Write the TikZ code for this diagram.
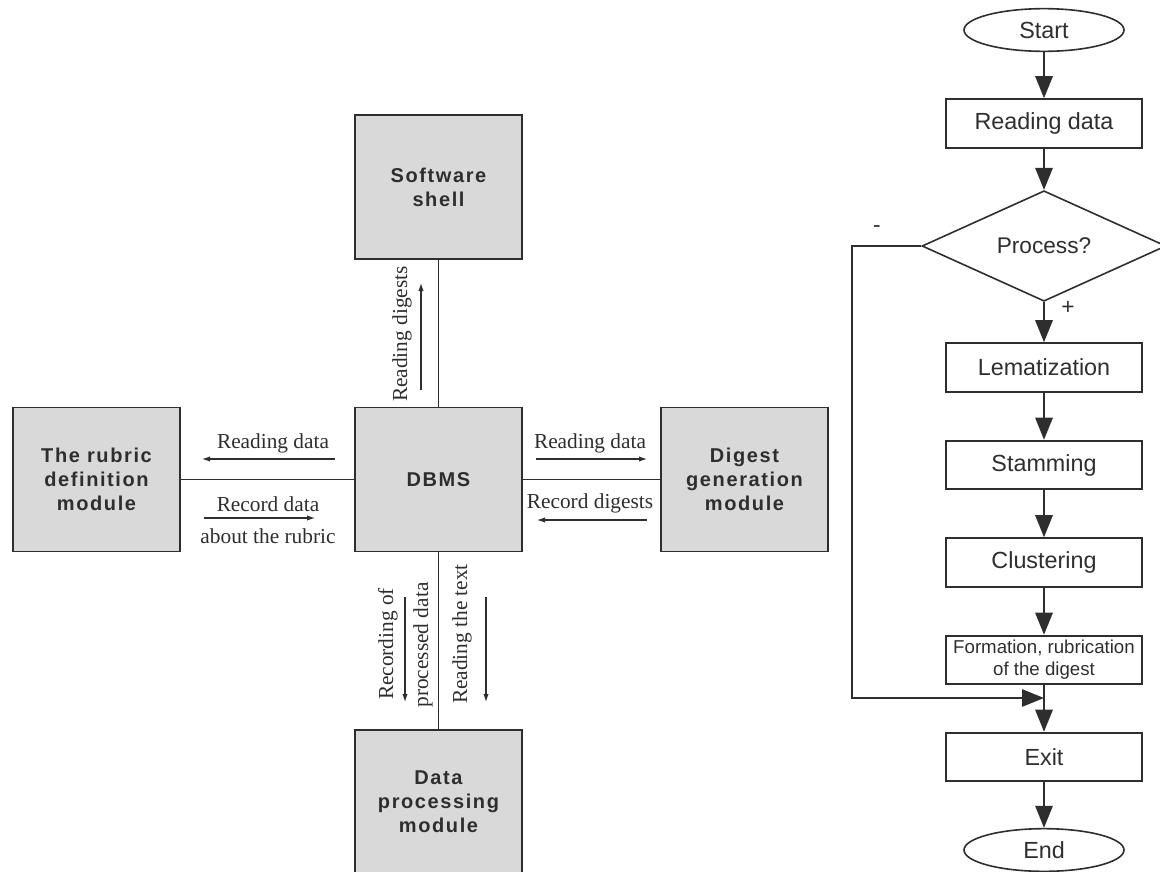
\documentclass[tikz,border=0pt]{standalone}
\usepackage{fontspec}
\setmainfont{Liberation Serif}
\setsansfont{Liberation Sans}
\newfontfamily\modfont[LetterSpace=8]{Liberation Sans}
\usetikzlibrary{arrows.meta,shapes.geometric}
\definecolor{ink}{HTML}{2E2E2E}
\definecolor{boxgray}{HTML}{D9D9D9}

\begin{document}
\begin{tikzpicture}
      [x=0.75pt, y=-0.75pt,
        module/.style={draw=ink, line width=1.4pt, fill=boxgray, text=ink,
          minimum width=125pt, minimum height=108pt, inner sep=0pt, align=center,
          font=\modfont\bfseries\fontsize{15}{18}\selectfont},
        lbl/.style={text=ink, inner sep=0pt, font=\fontsize{16}{18}\selectfont},
        link/.style={draw=ink, line width=1pt},
        tip/.style={draw=ink, line width=0.8pt, -{Latex[length=6pt, width=4pt]}},
        stepbox/.style={draw=ink, line width=1.4pt, minimum width=147pt, minimum height=36.5pt,
          inner sep=0pt, align=center, text=ink, font=\sffamily\fontsize{17.5}{20}\selectfont},
        term/.style={ellipse, draw=ink, line width=1.2pt, minimum width=120pt, minimum height=32pt,
          inner sep=0pt, text=ink, font=\sffamily\fontsize{17.5}{20}\selectfont},
        sign/.style={text=ink, inner sep=0pt, font=\sffamily\fontsize{17}{20}\selectfont},
        flow/.style={draw=ink, line width=1.4pt, -{Triangle[length=16.5pt, width=13pt]}}]
      \useasboundingbox (0,0) rectangle (1160,871);

      % modules round the DBMS
      \node[module] (dbms) at (438.5,479.5) {DBMS};
      \node[module] (shell) at (438.5,187) {Software\\shell};
      \node[module] (rubric) at (96.5,479.5) {The rubric\\definition\\module};
      \node[module] (digest) at (744.5,479.5) {Digest\\generation\\module};
      \node[module] (dpm) at (438.5,802) {Data\\processing\\module};

      \draw[link] (dbms) -- (shell);
      \draw[link] (dbms) -- (rubric);
      \draw[link] (dbms) -- (digest);
      \draw[link] (dbms) -- (dpm);

      % data flows
      \node[lbl, rotate=90] (rdig) at (402,334) {Reading digests};
      \coordinate (rdig1) at (421,390); \coordinate (rdig2) at (421,283);
      \draw[tip] (rdig1) -- (rdig2);

      \node[lbl] (rdl) at (273,443) {Reading data};
      \coordinate (rdl1) at (335,459); \coordinate (rdl2) at (202,459);
      \draw[tip] (rdl1) -- (rdl2);

      \node[lbl] (rcl) at (268,504) {Record data};
      \node[lbl] (rcl2) at (268,536) {about the rubric};
      \coordinate (rcl3) at (204,518); \coordinate (rcl4) at (315,518);
      \draw[tip] (rcl3) -- (rcl4);

      \node[lbl] (rdr) at (590,443) {Reading data};
      \coordinate (rdr1) at (536,459); \coordinate (rdr2) at (647,459);
      \draw[tip] (rdr1) -- (rdr2);

      \node[lbl] (rcr) at (590,503) {Record digests};
      \coordinate (rcr1) at (647,520); \coordinate (rcr2) at (537,520);
      \draw[tip] (rcr1) -- (rcr2);

      \node[lbl, rotate=90] (rpd) at (388,644) {Recording of};
      \node[lbl, rotate=90] (rpd2) at (423,645) {processed data};
      \coordinate (rpd3) at (405,597); \coordinate (rpd4) at (405,702);
      \draw[tip] (rpd3) -- (rpd4);

      \node[lbl, rotate=90] (rtx) at (462,634) {Reading the text};
      \coordinate (rtx1) at (486,597); \coordinate (rtx2) at (486,702);
      \draw[tip] (rtx1) -- (rtx2);

      % algorithm
      \node[term] (start) at (1044,30) {Start};
      \node[stepbox] (read) at (1044,123.5) {Reading data};
      \node[diamond, draw=ink, line width=1.2pt, minimum width=183pt, minimum height=72.5pt,
        inner sep=0pt, text=ink, font=\sffamily\fontsize{17}{20}\selectfont] (proc) at (1044,246) {Process?};
      \node[stepbox] (lem) at (1044,367.5) {Lematization};
      \node[stepbox] (stam) at (1044,465) {Stamming};
      \node[stepbox] (clus) at (1044,562.5) {Clustering};
      \node[stepbox, font=\sffamily\fontsize{14}{16.5}\selectfont] (form) at (1044,660) {Formation, rubrication\\of the digest};
      \node[stepbox] (exit) at (1044,757) {Exit};
      \node[term] (end) at (1044,850) {End};

      \node[sign] (minus) at (877,229) {-};
      \node[sign] (plus) at (1068,308) {+};

      \draw[flow] (start) -- (read);
      \draw[flow] (read) -- (proc);
      \draw[flow] (proc) -- (lem);
      \draw[flow] (lem) -- (stam);
      \draw[flow] (stam) -- (clus);
      \draw[flow] (clus) -- (form);
      \draw[flow] (form) -- (exit);
      \draw[flow] (exit) -- (end);
      \coordinate (loop) at (852,698);
      \draw[flow] (proc.west) -| (loop) -- (loop -| exit.north);
\end{tikzpicture}
\end{document}
